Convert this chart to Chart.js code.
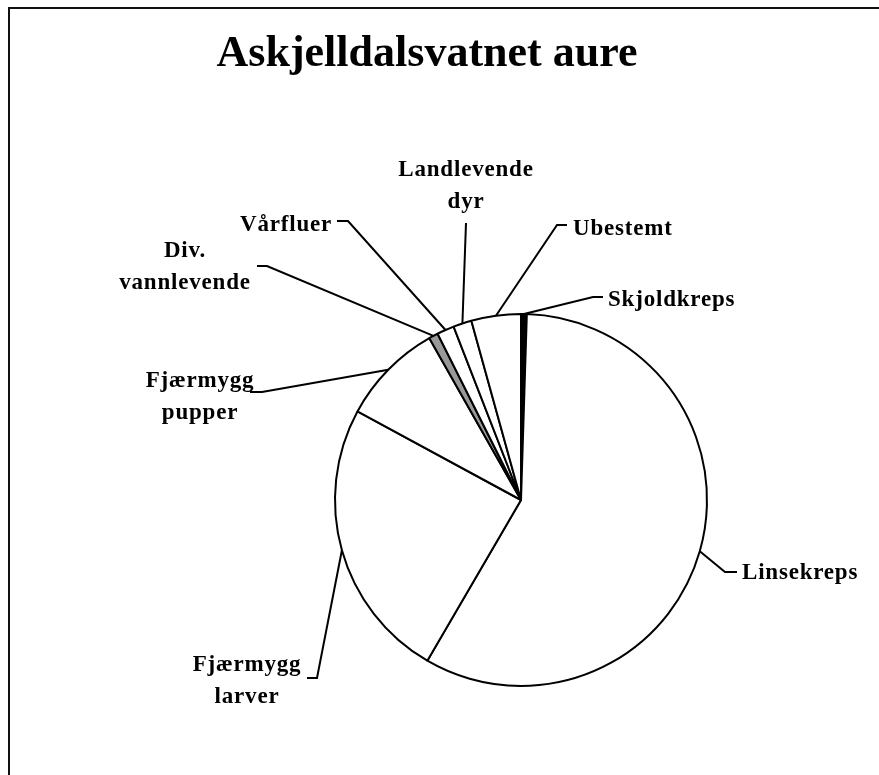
<!DOCTYPE html>
<html>
<head>
<meta charset="utf-8">
<script src="https://cdn.jsdelivr.net/npm/chart.js@4/dist/chart.umd.min.js"></script>
<style>
  html, body { margin: 0; padding: 0; background: #ffffff; }
  canvas { display: block; }
</style>
</head>
<body>
<canvas id="c" width="879" height="775"></canvas>
<script>
// ---- Data ----
const chartTitle = "Askjelldalsvatnet aure";
const categories = ["Skjoldkreps", "Linsekreps", "Fjærmygg larver", "Fjærmygg pupper",
                    "Div. vannlevende", "Vårfluer", "Landlevende dyr", "Ubestemt"];
const shares = [0.5, 57.9, 24.5, 8.9, 0.8, 1.5, 1.6, 4.3];
const labelLines = [["Skjoldkreps"], ["Linsekreps"], ["Fjærmygg", "larver"], ["Fjærmygg", "pupper"],
                    ["Div.", "vannlevende"], ["Vårfluer"], ["Landlevende", "dyr"], ["Ubestemt"]];

// ---- Styling / layout (not data) ----
const sliceColors = ["#000000", "#ffffff", "#ffffff", "#ffffff", "#999999", "#ffffff", "#ffffff", "#ffffff"];
// text anchor (x, first baseline, align) and leader elbow points
const labelLayout = [
  { x: 608, y: 306, align: "left",   leader: [[603, 297], [593, 297]] },
  { x: 742, y: 579, align: "left",   leader: [[737, 572], [725, 572]] },
  { x: 247, y: 671, align: "center", leader: [[307, 678], [317, 678]] },
  { x: 200, y: 387, align: "center", leader: [[250, 392], [262, 392]] },
  { x: 185, y: 257, align: "center", leader: [[257, 266], [267, 266]] },
  { x: 332, y: 231, align: "right",  leader: [[337, 221], [348, 221]] },
  { x: 466, y: 176, align: "center", leader: [[466, 223]] },
  { x: 573, y: 235, align: "left",   leader: [[567, 225], [557, 225]] }
];
const lineGap = 32;

const decor = {
  id: "decor",
  afterDraw(chart) {
    const ctx = chart.ctx;
    ctx.save();
    // frame (left and top edges only visible)
    ctx.strokeStyle = "#111";
    ctx.lineWidth = 2;
    ctx.beginPath();
    ctx.moveTo(9, 800);
    ctx.lineTo(9, 8);
    ctx.lineTo(900, 8);
    ctx.stroke();

    // title
    ctx.fillStyle = "#000";
    ctx.font = "bold 44px 'Liberation Serif', 'Times New Roman', serif";
    ctx.textAlign = "center";
    ctx.textBaseline = "alphabetic";
    ctx.fillText(chartTitle, 427, 66);

    // labels + leaders
    const meta = chart.getDatasetMeta(0);
    ctx.font = "bold 23px 'Liberation Serif', 'Times New Roman', serif";
    try { ctx.letterSpacing = "0.8px"; } catch (e) {}
    ctx.lineWidth = 2;
    ctx.strokeStyle = "#000";
    meta.data.forEach((arc, i) => {
      const p = arc.getProps(["x", "y", "startAngle", "endAngle", "outerRadius"], true);
      const mid = (p.startAngle + p.endAngle) / 2;
      const ax = p.x + Math.cos(mid) * p.outerRadius;
      const ay = p.y + Math.sin(mid) * p.outerRadius;
      const lay = labelLayout[i];
      ctx.beginPath();
      ctx.moveTo(lay.leader[0][0], lay.leader[0][1]);
      for (let k = 1; k < lay.leader.length; k++) ctx.lineTo(lay.leader[k][0], lay.leader[k][1]);
      ctx.lineTo(ax, ay);
      ctx.stroke();
      ctx.textAlign = lay.align;
      labelLines[i].forEach((t, j) => ctx.fillText(t, lay.x, lay.y + j * lineGap));
    });
    ctx.restore();
  }
};

new Chart(document.getElementById("c"), {
  type: "pie",
  data: {
    labels: categories,
    datasets: [{
      data: shares,
      backgroundColor: sliceColors,
      borderColor: "#000000",
      borderWidth: 2,
      radius: 186
    }]
  },
  options: {
    responsive: false,
    animation: false,
    layout: { padding: { left: 335, right: 172, top: 314, bottom: 89 } },
    plugins: { legend: { display: false }, tooltip: { enabled: false }, title: { display: false } }
  },
  plugins: [decor]
});
</script>
</body>
</html>
